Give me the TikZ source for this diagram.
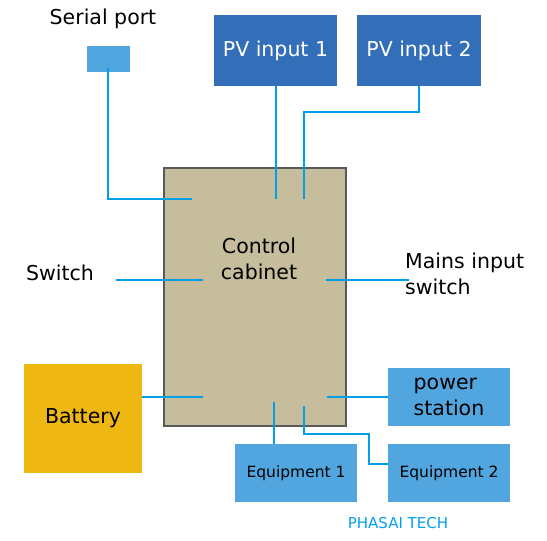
\documentclass[tikz,border=0pt]{standalone}
\usepackage{fontspec}
\setmainfont{DejaVu Sans}
\usetikzlibrary{positioning}

\definecolor{pvblue}{RGB}{51,110,184}
\definecolor{devblue}{RGB}{82,166,224}
\definecolor{battyellow}{RGB}{239,183,17}
\definecolor{cabfill}{RGB}{197,189,155}
\definecolor{wireblue}{RGB}{0,160,233}

\begin{document}
\begin{tikzpicture}[
    x=1pt, y=-1pt,
    box/.style={rectangle, inner sep=0pt, align=center, font=\fontsize{20.5}{26}\selectfont},
    pv/.style={box, fill=pvblue, text=white, minimum width=123pt, minimum height=71pt},
    device/.style={box, fill=devblue, minimum width=122pt, minimum height=58pt},
    equip/.style={device, font=\fontsize{15.5}{19}\selectfont},
    cab/.style={box, fill=cabfill, draw=black!65, line width=1.2pt, minimum width=182pt, minimum height=258pt},
    lbl/.style={inner sep=0pt, align=left, font=\fontsize{20.5}{26}\selectfont},
    wire/.style={draw=wireblue, line width=2.3pt}
]
\useasboundingbox (0,0) rectangle (547,541);

% Control cabinet
\node[cab] (cabinet) at (255,297) {};
\node[lbl, align=center] (cabtext) at (259,259) {Control\\cabinet};

% Top: serial port and PV inputs
\node[lbl] (serial_lbl) at (103,19) {Serial port};
\node[box, fill=devblue, minimum width=43pt, minimum height=26pt] (serial) at (108,59) {};
\node[pv] (pv1) at (275.5,50.5) {PV input 1};
\node[pv, minimum width=124pt] (pv2) at (419,50.5) {PV input 2};

% Side labels
\node[lbl] (switch) at (60,273) {Switch};
\node[lbl, anchor=west] (mains) at (405,274) {Mains input\\switch};

% Bottom: battery and loads
\node[box, fill=battyellow, minimum width=118pt, minimum height=109pt] (battery) at (83,418.5) {Battery};
\node[device, align=left] (power) at (449,397) {power\\station};
\node[equip] (eq1) at (296,473) {Equipment 1};
\node[equip] (eq2) at (449,473) {Equipment 2};
\node[font=\fontsize{15}{18}\selectfont, text=wireblue] (brand) at (398,523) {PHASAI TECH};

% Wire ends inside the cabinet
\coordinate (c_serial) at (192,199);
\coordinate (c_pv1) at (276,199);
\coordinate (c_pv2) at (304,199);
\coordinate (c_switch) at (203,280);
\coordinate (c_mains) at (326,280);
\coordinate (c_bat) at (203,397);
\coordinate (c_pow) at (327,397);
\coordinate (c_eq1) at (274,402);
\coordinate (c_eq2) at (304,406);
\coordinate (sw_end) at (116,280);
\coordinate (mains_end) at (409,280);

% Wires
\draw[wire] ([yshift=4pt]serial.south) |- (c_serial);
\draw[wire] (c_pv1 |- pv1.south) -- (c_pv1);
\draw[wire] (pv2.south) -- ++(0,26) -| (c_pv2);
\draw[wire] (sw_end) -- (c_switch);
\draw[wire] (c_mains) -- (mains_end);
\draw[wire] (battery.east |- c_bat) -- (c_bat);
\draw[wire] (c_pow) -- (power.west);
\draw[wire] (c_eq1) -- (c_eq1 |- eq1.north);
\draw[wire] (c_eq2) |- (369,434) |- ([yshift=9pt]eq2.west);

\end{tikzpicture}
\end{document}
